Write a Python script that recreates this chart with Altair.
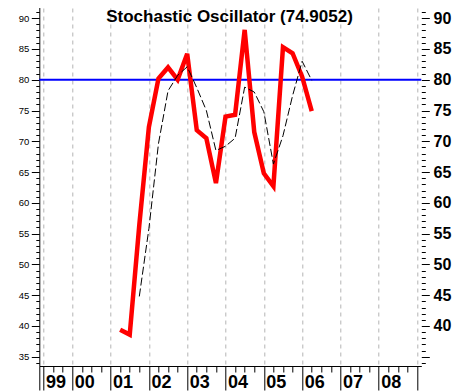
import altair as alt
import pandas as pd

# ---- data ----
quarters = [2001.25, 2001.5, 2001.75, 2002.0, 2002.25, 2002.5, 2002.75, 2003.0,
            2003.25, 2003.5, 2003.75, 2004.0, 2004.25, 2004.5, 2004.75, 2005.0,
            2005.25, 2005.5, 2005.75, 2006.0, 2006.25]
k_values = [39.4, 38.6, 56.4, 72.3, 80.2, 82.0, 80.0, 84.2,
            71.8, 70.5, 63.2, 74.0, 74.3, 88.1, 71.5, 64.8,
            62.7, 85.3, 84.3, 80.5, 74.9052]
d_quarters = [2001.75, 2002.0, 2002.25, 2002.5, 2002.75, 2003.0,
              2003.25, 2003.5, 2003.75, 2004.0, 2004.25, 2004.5, 2004.75, 2005.0,
              2005.25, 2005.5, 2005.75, 2006.0, 2006.25]
d_values = [44.8, 55.8, 69.6, 78.2, 80.7, 82.1,
            78.7, 75.0, 68.5, 69.2, 70.5, 78.8, 78.0, 74.8,
            66.3, 70.9, 77.4, 83.0, 79.9]
level = [80]

year_ticks = [1999.25, 2000, 2001, 2002, 2003, 2004, 2005, 2006, 2007, 2008, 2009]
year_labels = ["99", "00", "01", "02", "03", "04", "05", "06", "07", "08", ""]
x_tick_values = [1999.14] + [1999.25 + 0.25 * i for i in range(40)]
y_tick_values = list(range(34, 93))

title_text = ["Stochastic Oscillator (%.4f)" % k_values[-1]]

k_df = pd.DataFrame({"t": quarters, "k": k_values})
d_df = pd.DataFrame({"t": d_quarters, "d": d_values})
lvl_df = pd.DataFrame({"v": level})
title_df = pd.DataFrame({"txt": title_text})

FONT = "Liberation Sans"
X_DOMAIN = [1999.14, 2009.11]
Y_DOMAIN = [33.5, 92.95]

label_expr = "".join(
    "abs(datum.value - %s) < 0.01 ? '%s' : " % (v, lab) for v, lab in zip(year_ticks, year_labels)
) + "''"
major_x = "abs(datum.value - round(datum.value)) < 0.01 || datum.value < 1999.3"
grid_x = "abs(datum.value - round(datum.value)) < 0.01 || (datum.value > 1999.2 && datum.value < 1999.3)"
major_y = "datum.value % 5 === 0"

x_axis = alt.Axis(
    values=x_tick_values, title=None, grid=True,
    gridColor="#b4b4b4", gridDash=[4, 4], gridWidth=1,
    gridOpacity={"condition": {"test": grid_x, "value": 1}, "value": 0},
    tickColor="black", tickWidth=1,
    tickSize={"condition": {"test": major_x, "value": 24}, "value": 6},
    domainColor="black", domainWidth=1,
    labelExpr=label_expr, labelAlign="left", labelBaseline="top",
    labelOffset=2, labelPadding=-16.5,
    labelFont=FONT, labelFontSize=18, labelFontWeight="bold", labelColor="black",
    labelOverlap=False, labelFlush=False, labelBound=False,
)
x_enc = lambda f: alt.X(f"{f}:Q", scale=alt.Scale(domain=X_DOMAIN, nice=False, zero=False), axis=x_axis)

y_scale = alt.Scale(domain=Y_DOMAIN, nice=False, zero=False)

left_axis = alt.Axis(
    orient="left", values=y_tick_values, title=None, grid=False,
    domainColor="black", domainWidth=1, tickColor="black",
    tickSize={"condition": {"test": major_y, "value": 8}, "value": 3.5},
    labelExpr="datum.value % 5 === 0 ? datum.label : ''",
    labelPadding=2.4, labelFont=FONT, labelFontSize=9.5, labelColor="black",
    labelOverlap=False, labelFlush=False,
)
right_axis = alt.Axis(
    orient="right", values=y_tick_values, title=None, grid=False,
    domain=False, tickColor="black",
    tickSize={"condition": {"test": major_y, "value": 8}, "value": 4},
    labelExpr="datum.value % 5 === 0 && datum.value >= 40 ? datum.label : ''",
    labelPadding=3.7, labelFont=FONT, labelFontSize=16, labelFontWeight="bold",
    labelColor="black", labelOverlap=False, labelFlush=False,
)

rule = alt.Chart(lvl_df).mark_rule(color="#0000ff", strokeWidth=2).encode(
    y=alt.Y("v:Q", scale=y_scale, axis=None)
)

red = alt.Chart(k_df).mark_line(color="#ff0000", strokeWidth=4.5, strokeJoin="miter").encode(
    x=x_enc("t"),
    y=alt.Y("k:Q", scale=y_scale, axis=left_axis),
)

black = alt.Chart(d_df).mark_line(color="black", strokeWidth=1, strokeDash=[8, 3]).encode(
    x=x_enc("t"),
    y=alt.Y("d:Q", scale=y_scale, axis=right_axis),
)

title = alt.Chart(title_df).mark_text(
    font=FONT, fontSize=17, fontWeight="bold", color="black",
    align="center", baseline="alphabetic",
).encode(
    x=alt.value(190.2), y=alt.value(21.8), text="txt:N"
)

chart = alt.layer(rule, red, black, title).resolve_scale(y="independent").properties(
    width=382, height=366,
    padding={"left": 31.3, "top": -8, "right": 30.7, "bottom": 25},
    autosize=alt.AutoSizeParams(type="none"),
    background="white",
).configure_view(strokeWidth=0)

chart.save("out.html", embed_options={"renderer": "svg", "actions": False})
